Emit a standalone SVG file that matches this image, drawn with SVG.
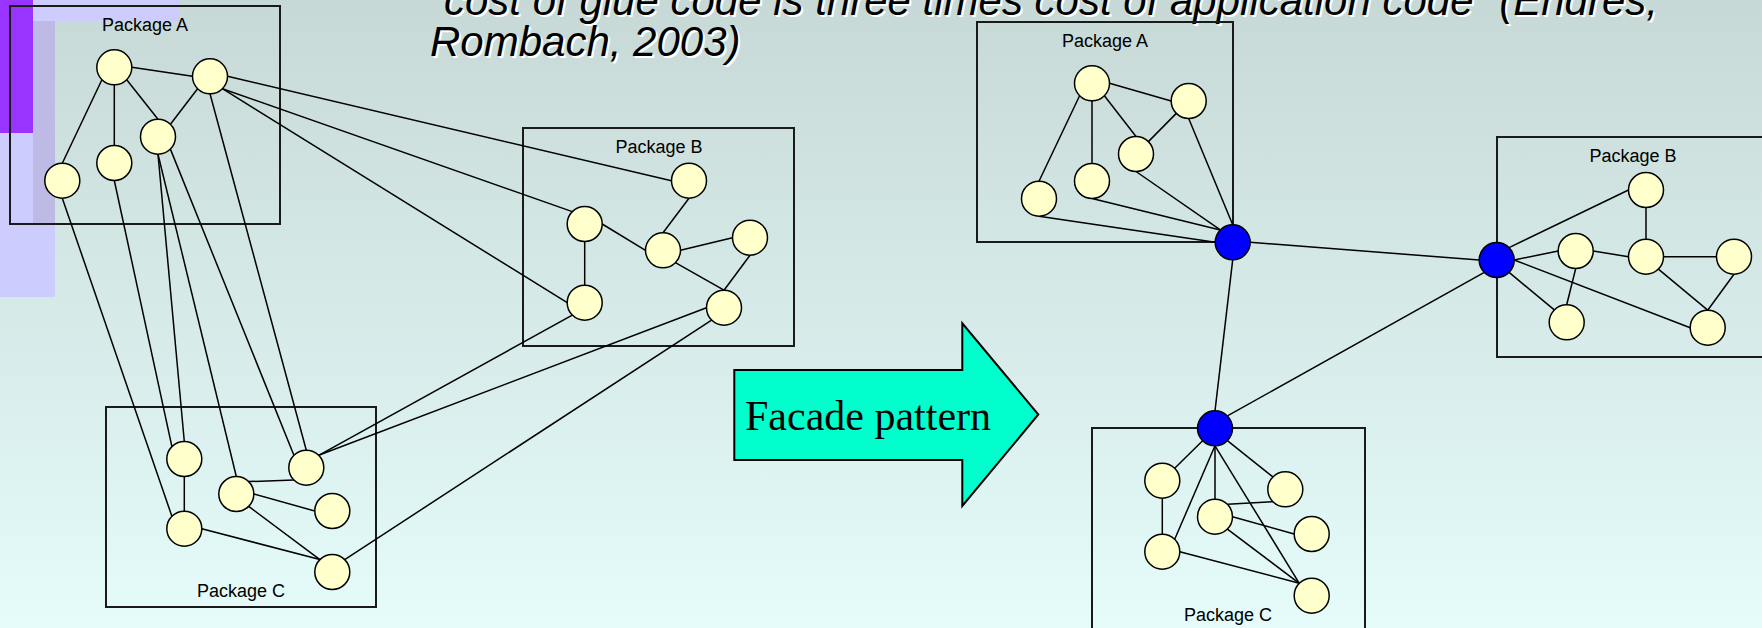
<svg xmlns="http://www.w3.org/2000/svg" width="1762" height="628" viewBox="0 0 1762 628">
  <defs>
    <linearGradient id="bg" x1="0" y1="0" x2="0" y2="1">
      <stop offset="0" stop-color="#C7D9D7"/>
      <stop offset="1" stop-color="#E5FCFA"/>
    </linearGradient>
    <style>
      .box { fill: none; stroke: #1a1a1a; stroke-width: 2; }
      .pkg { font-family: "Liberation Sans", Arial, sans-serif; font-size: 18px; fill: #000; text-anchor: middle; }
      .edge line { stroke: #000; stroke-width: 1.5; }
      .node { fill: #FFFFCC; stroke: #000; stroke-width: 1.5; }
      .hub { fill: #0000FF; stroke: #000; stroke-width: 1.5; }
      .title { font-family: "Liberation Sans", Arial, sans-serif; font-size: 42px; font-style: italic; }
      .label { font-family: "Liberation Serif", "Times New Roman", serif; font-size: 42px; fill: #000; }
    </style>
  </defs>

  <!-- slide background -->
  <rect x="0" y="0" width="1762" height="628" fill="url(#bg)"/>

  <!-- corner decoration -->
  <g id="decoration">
    <rect x="0" y="0" width="55" height="297" fill="#CCCCFF"/>
    <rect x="33" y="0" width="147" height="21" fill="#CCCCFF"/>
    <rect x="33" y="21" width="22" height="203" fill="#BDBBE6"/>
    <rect x="0" y="0" width="33" height="133" fill="#9933FF"/>
  </g>

  <!-- quotation, with its light drop shadow -->
  <g id="title" class="title">
    <text x="432" y="17" fill="#FFFFFF">“cost of glue code is three times cost of application code” (Endres,</text>
    <text x="432" y="58" fill="#FFFFFF">Rombach, 2003)</text>
    <text x="430" y="15" fill="#000000">“cost of glue code is three times cost of application code” (Endres,</text>
    <text x="430" y="56" fill="#000000">Rombach, 2003)</text>
  </g>

  <!-- package frames -->
  <g id="pkgA-left"><rect class="box" x="10" y="6" width="270" height="218"/><text class="pkg" x="145" y="31">Package A</text></g>
  <g id="pkgB-left"><rect class="box" x="523" y="128" width="271" height="218"/><text class="pkg" x="659" y="153">Package B</text></g>
  <g id="pkgC-left"><rect class="box" x="106" y="407" width="270" height="200"/><text class="pkg" x="241" y="597">Package C</text></g>
  <g id="pkgA-right"><rect class="box" x="977" y="22" width="256" height="220"/><text class="pkg" x="1105" y="47">Package A</text></g>
  <g id="pkgB-right"><rect class="box" x="1497" y="137" width="300" height="220"/><text class="pkg" x="1633" y="162">Package B</text></g>
  <g id="pkgC-right"><rect class="box" x="1092" y="428" width="273" height="230"/><text class="pkg" x="1228" y="621">Package C</text></g>

  <!-- connectors -->
  <g id="connectors" class="edge">
    <!-- left: inside package A -->
    <line x1="131.8" y1="67.3" x2="192.5" y2="76.3"/>
    <line x1="101.9" y1="79.7" x2="62.3" y2="163.2"/>
    <line x1="114.3" y1="84.8" x2="114.3" y2="145.5"/>
    <line x1="126.7" y1="79.7" x2="158" y2="119.2"/>
    <line x1="170.4" y1="124.3" x2="197.6" y2="88.7"/>
    <!-- left: inside package B -->
    <line x1="689" y1="198.2" x2="663" y2="232.8"/>
    <line x1="602.2" y1="224" x2="645.5" y2="250.3"/>
    <line x1="584.7" y1="241.5" x2="584.7" y2="285.2"/>
    <line x1="680.5" y1="250.3" x2="732.5" y2="237.7"/>
    <line x1="675.4" y1="262.7" x2="724" y2="290.2"/>
    <line x1="750" y1="255.2" x2="724" y2="290.2"/>
    <!-- left: inside package C -->
    <line x1="184.3" y1="476.5" x2="184.3" y2="511.2"/>
    <line x1="248.7" y1="481.6" x2="293.9" y2="480.1"/>
    <line x1="253.8" y1="494" x2="314.8" y2="511"/>
    <line x1="248.7" y1="506.4" x2="319.9" y2="559.6"/>
    <line x1="201.8" y1="528.7" x2="319.9" y2="559.6"/>
    <!-- left: between packages -->
    <line x1="227.5" y1="76.3" x2="671.5" y2="180.7"/>
    <line x1="222.4" y1="88.7" x2="572.3" y2="211.6"/>
    <line x1="222.4" y1="88.7" x2="567.2" y2="302.7"/>
    <line x1="210" y1="93.8" x2="306.3" y2="450.2"/>
    <line x1="158" y1="154.2" x2="184.3" y2="441.5"/>
    <line x1="158" y1="154.2" x2="236.3" y2="476.5"/>
    <line x1="170.4" y1="149.1" x2="293.9" y2="455.3"/>
    <line x1="114.3" y1="180.5" x2="171.9" y2="446.6"/>
    <line x1="62.3" y1="198.2" x2="171.9" y2="516.3"/>
    <line x1="572.3" y1="315.1" x2="318.7" y2="455.3"/>
    <line x1="706.5" y1="307.7" x2="318.7" y2="455.3"/>
    <line x1="711.6" y1="320.1" x2="344.7" y2="559.6"/>

    <!-- right: inside package A -->
    <line x1="1109.5" y1="83.3" x2="1171.2" y2="101"/>
    <line x1="1079.6" y1="95.7" x2="1039" y2="181.2"/>
    <line x1="1092" y1="100.8" x2="1092" y2="163.5"/>
    <line x1="1104.4" y1="95.7" x2="1136" y2="136.5"/>
    <line x1="1148.4" y1="141.6" x2="1176.3" y2="113.4"/>
    <line x1="1039" y1="216.2" x2="1215.2" y2="242.3"/>
    <line x1="1092" y1="198.5" x2="1220.3" y2="229.9"/>
    <line x1="1136" y1="171.5" x2="1220.3" y2="229.9"/>
    <line x1="1188.7" y1="118.5" x2="1232.7" y2="224.8"/>
    <!-- right: facade to facade -->
    <line x1="1250.2" y1="242.3" x2="1479.2" y2="260"/>
    <line x1="1232.7" y1="259.8" x2="1215" y2="410.8"/>
    <line x1="1227.4" y1="415.9" x2="1484.3" y2="272.4"/>
    <!-- right: inside package B -->
    <line x1="1509.1" y1="247.6" x2="1628.5" y2="190"/>
    <line x1="1514.2" y1="260" x2="1558.2" y2="251"/>
    <line x1="1509.1" y1="272.4" x2="1554.3" y2="309.9"/>
    <line x1="1514.2" y1="260" x2="1690.2" y2="327.7"/>
    <line x1="1593.2" y1="251" x2="1628.5" y2="256.7"/>
    <line x1="1575.7" y1="268.5" x2="1566.7" y2="304.8"/>
    <line x1="1646" y1="207.5" x2="1646" y2="239.2"/>
    <line x1="1663.5" y1="256.7" x2="1716.5" y2="256.7"/>
    <line x1="1658.4" y1="269.1" x2="1707.7" y2="310.2"/>
    <line x1="1734" y1="274.2" x2="1707.7" y2="310.2"/>
    <!-- right: inside package C -->
    <line x1="1202.6" y1="440.7" x2="1174.7" y2="468.3"/>
    <line x1="1215" y1="445.8" x2="1174.7" y2="539.3"/>
    <line x1="1215" y1="445.8" x2="1215" y2="499.2"/>
    <line x1="1227.4" y1="440.7" x2="1272.9" y2="476.9"/>
    <line x1="1215" y1="445.8" x2="1299.3" y2="583.3"/>
    <line x1="1162.3" y1="498.2" x2="1162.3" y2="534.2"/>
    <line x1="1227.4" y1="504.3" x2="1272.9" y2="501.7"/>
    <line x1="1232.5" y1="516.7" x2="1294.2" y2="534"/>
    <line x1="1227.4" y1="529.1" x2="1299.3" y2="583.3"/>
    <line x1="1179.8" y1="551.7" x2="1299.3" y2="583.3"/>
  </g>

  <!-- left: classes of package A -->
  <g id="la1"><circle class="node" cx="114.3" cy="67.3" r="17.5"/></g>
  <g id="la2"><circle class="node" cx="210" cy="76.3" r="17.5"/></g>
  <g id="la3"><circle class="node" cx="158" cy="136.7" r="17.5"/></g>
  <g id="la4"><circle class="node" cx="114.3" cy="163" r="17.5"/></g>
  <g id="la5"><circle class="node" cx="62.3" cy="180.7" r="17.5"/></g>
  <!-- left: classes of package B -->
  <g id="lb1"><circle class="node" cx="689" cy="180.7" r="17.5"/></g>
  <g id="lb2"><circle class="node" cx="584.7" cy="224" r="17.5"/></g>
  <g id="lb3"><circle class="node" cx="663" cy="250.3" r="17.5"/></g>
  <g id="lb4"><circle class="node" cx="750" cy="237.7" r="17.5"/></g>
  <g id="lb5"><circle class="node" cx="584.7" cy="302.7" r="17.5"/></g>
  <g id="lb6"><circle class="node" cx="724" cy="307.7" r="17.5"/></g>
  <!-- left: classes of package C -->
  <g id="lc1"><circle class="node" cx="184.3" cy="459" r="17.5"/></g>
  <g id="lc2"><circle class="node" cx="184.3" cy="528.7" r="17.5"/></g>
  <g id="lc3"><circle class="node" cx="236.3" cy="494" r="17.5"/></g>
  <g id="lc4"><circle class="node" cx="306.3" cy="467.7" r="17.5"/></g>
  <g id="lc5"><circle class="node" cx="332.3" cy="511" r="17.5"/></g>
  <g id="lc6"><circle class="node" cx="332.3" cy="572" r="17.5"/></g>

  <!-- transition arrow -->
  <g id="facade-arrow">
    <polygon points="734.3,370 962.3,370 962.3,323.3 1038.3,414.5 962.3,506 962.3,460 734.3,460" fill="#00FFCC" stroke="#000" stroke-width="2" stroke-linejoin="miter"/>
    <text class="label" x="745" y="430">Facade pattern</text>
  </g>

  <!-- right: classes of package A -->
  <g id="ra1"><circle class="node" cx="1092" cy="83.3" r="17.5"/></g>
  <g id="ra2"><circle class="node" cx="1188.7" cy="101" r="17.5"/></g>
  <g id="ra3"><circle class="node" cx="1136" cy="154" r="17.5"/></g>
  <g id="ra4"><circle class="node" cx="1092" cy="181" r="17.5"/></g>
  <g id="ra5"><circle class="node" cx="1039" cy="198.7" r="17.5"/></g>
  <g id="facadeA"><circle class="hub" cx="1232.7" cy="242.3" r="17.5"/></g>
  <!-- right: classes of package B -->
  <g id="facadeB"><circle class="hub" cx="1496.7" cy="260" r="17.5"/></g>
  <g id="rb1"><circle class="node" cx="1646" cy="190" r="17.5"/></g>
  <g id="rb2"><circle class="node" cx="1575.7" cy="251" r="17.5"/></g>
  <g id="rb3"><circle class="node" cx="1646" cy="256.7" r="17.5"/></g>
  <g id="rb4"><circle class="node" cx="1734" cy="256.7" r="17.5"/></g>
  <g id="rb5"><circle class="node" cx="1566.7" cy="322.3" r="17.5"/></g>
  <g id="rb6"><circle class="node" cx="1707.7" cy="327.7" r="17.5"/></g>
  <!-- right: classes of package C -->
  <g id="facadeC"><circle class="hub" cx="1215" cy="428.3" r="17.5"/></g>
  <g id="rc1"><circle class="node" cx="1162.3" cy="480.7" r="17.5"/></g>
  <g id="rc2"><circle class="node" cx="1162.3" cy="551.7" r="17.5"/></g>
  <g id="rc3"><circle class="node" cx="1215" cy="516.7" r="17.5"/></g>
  <g id="rc4"><circle class="node" cx="1285.3" cy="489.3" r="17.5"/></g>
  <g id="rc5"><circle class="node" cx="1311.7" cy="534" r="17.5"/></g>
  <g id="rc6"><circle class="node" cx="1311.7" cy="595.7" r="17.5"/></g>
</svg>
